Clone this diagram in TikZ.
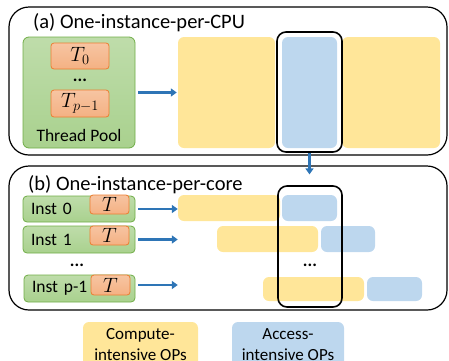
\documentclass[tikz,border=0pt]{standalone}
\usepackage{fontspec}
\setmainfont{Carlito}
\usetikzlibrary{arrows.meta}
\definecolor{cmpyel}{HTML}{FFE699}
\definecolor{accblue}{HTML}{BDD7EE}
\definecolor{poolgreen}{HTML}{A9D18E}
\definecolor{poolline}{HTML}{70AD47}
\definecolor{thrfill}{HTML}{F4B183}
\definecolor{thrline}{HTML}{ED7D31}
\definecolor{arrblue}{HTML}{2E75B6}
\tikzset{
  panel/.style={draw,line width=1.2pt,rounded corners=20pt},
  frame/.style={draw,line width=1.6pt,rounded corners=9pt},
  pool/.style={draw=poolline,top color=poolgreen!75!white,bottom color=poolgreen,line width=0.8pt,rounded corners=6pt},
  thread/.style={draw=thrline,top color=thrfill!75!white,bottom color=thrfill,line width=0.8pt,rounded corners=3pt,inner sep=0pt,font=\fontsize{20}{22}\selectfont},
  cmp/.style={fill=cmpyel,rounded corners=6pt,inner sep=0pt},
  acc/.style={fill=accblue,rounded corners=6pt,inner sep=0pt},
  flow/.style={draw=arrblue,line width=2.6pt,-{Triangle[length=6pt,width=8pt]}},
}
\begin{document}
\begin{tikzpicture}[x=1pt,y=-1pt,font=\fontsize{17.5}{20}\selectfont]
  \clip (0,0) rectangle (449,360);
  \useasboundingbox (0,0) rectangle (449,360);

  % (a) one instance per CPU
  \node[panel,minimum width=438pt,minimum height=148pt] (boxA) at (228,81) {};
  \node[anchor=west,inner sep=0pt,font=\fontsize{20.5}{22}\selectfont] (titleA) at (33,23) {(a) One-instance-per-CPU};
  \node[pool,minimum width=112pt,minimum height=111pt] (pool) at (79,92.5) {};
  \node[thread,minimum width=58pt,minimum height=26pt] (t0) at (80,56) {$T_0$};
  \node[inner sep=0pt] (dotsA) at (80,80) {\textbf{...}};
  \node[thread,minimum width=58pt,minimum height=27pt] (tp) at (80,103.5) {$T_{p-1}$};
  \node[inner sep=0pt] (poolname) at (79,135) {Thread Pool};

  \node[cmp,minimum width=97pt,minimum height=111pt] (cmpL) at (226.5,92.5) {};
  \node[acc,minimum width=55pt,minimum height=111pt] (accA) at (309.5,92.5) {};
  \node[cmp,minimum width=98pt,minimum height=111pt] (cmpR) at (391,92.5) {};
  \node[frame,minimum width=65pt,minimum height=120pt] (frameA) at (309.5,92) {};
  \draw[flow,shorten <=3pt,shorten >=1pt] (pool.east |- cmpL.west) -- (cmpL.west);

  % (b) one instance per core
  \node[panel,minimum width=438pt,minimum height=144pt] (boxB) at (228,238) {};
  \node[anchor=west,inner sep=0pt,font=\fontsize{20.5}{22}\selectfont] (titleB) at (28,185) {(b) One-instance-per-core};
  \draw[flow,shorten >=5pt] (frameA.south) -- (frameA.south |- boxB.north) -- ++(0,14);

  \node[pool,rounded corners=4pt,minimum width=112pt,minimum height=26pt,text width=96pt,align=left] (inst0) at (79,209) {Inst 0};
  \node[thread,minimum width=39pt,minimum height=19pt] (ti0) at (109.5,204.5) {$T$};
  \node[pool,rounded corners=4pt,minimum width=112pt,minimum height=27pt,text width=96pt,align=left] (inst1) at (79,239.5) {Inst 1};
  \node[thread,minimum width=39pt,minimum height=19pt] (ti1) at (109.5,235.5) {$T$};
  \node[inner sep=0pt] (dotsB) at (77,265) {\textbf{...}};
  \node[pool,rounded corners=4pt,minimum width=111pt,minimum height=27pt,text width=95pt,align=left] (instp) at (79.5,288.5) {Inst p-1};
  \node[thread,minimum width=39pt,minimum height=20pt] (tip) at (110.5,285) {$T$};

  \node[cmp,minimum width=102pt,minimum height=26pt] (cmp0) at (229,208) {};
  \node[acc,minimum width=55pt,minimum height=26pt] (acc0) at (309.5,208) {};
  \node[cmp,minimum width=101pt,minimum height=26pt] (cmp1) at (267.5,239) {};
  \node[acc,minimum width=54pt,minimum height=26pt] (acc1) at (348,239) {};
  \node[inner sep=0pt] (dotsC) at (310,265) {\textbf{...}};
  \node[cmp,minimum width=101pt,minimum height=24pt] (cmpp) at (313.5,289) {};
  \node[acc,minimum width=55pt,minimum height=24pt] (accp) at (394.5,289) {};
  \node[frame,minimum width=64pt,minimum height=121pt] (frameB) at (310,246.5) {};

  \draw[flow,shorten <=3pt] (inst0.east) -- (inst0.east -| cmp0.west);
  \draw[flow,shorten <=3pt] (inst1.east) -- (inst1.east -| cmp0.west);
  \draw[flow,shorten <=3pt] (instp.east |- tip) -- (tip -| cmp0.west);

  % legend
  \node[cmp,minimum width=115pt,minimum height=46pt,align=center,font=\fontsize{17}{21}\selectfont] (legC) at (140.5,345) {Compute-\\intensive OPs};
  \node[acc,minimum width=112pt,minimum height=46pt,align=center,font=\fontsize{17}{21}\selectfont] (legA) at (288,345) {Access-\\intensive OPs};
\end{tikzpicture}
\end{document}
